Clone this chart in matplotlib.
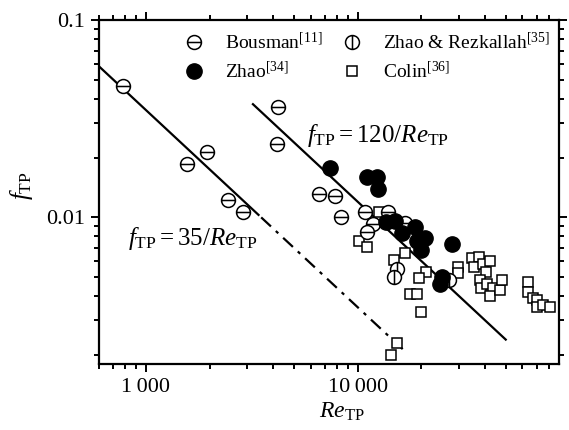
import numpy as np
import matplotlib
matplotlib.use("Agg")
import matplotlib.pyplot as plt
from matplotlib.path import Path
from matplotlib.ticker import FixedLocator, LogLocator, NullFormatter

plt.rcParams['font.family'] = 'Liberation Serif'
plt.rcParams['mathtext.fontset'] = 'custom'
plt.rcParams['mathtext.rm'] = 'Liberation Serif'
plt.rcParams['mathtext.it'] = 'Liberation Serif:italic'

# -------------------------
# Data
# -------------------------
bousman_re = [778, 1560, 1940, 2440, 2870, 4200, 4150, 6550, 7800, 8320,
              10800, 11800, 11100, 13900, 16700]
bousman_f = [0.0462, 0.0186, 0.0214, 0.0122, 0.0106, 0.0361, 0.0235, 0.0132,
             0.0128, 0.0101, 0.0107, 0.0093, 0.0084, 0.0107, 0.0094]

zhao_re = [7380, 11100, 12300, 12400, 13600, 15000, 16100, 18600, 19000,
           20700, 20000, 28000, 24900, 24500]
zhao_f = [0.0177, 0.0161, 0.0160, 0.0140, 0.0095, 0.0096, 0.0083, 0.0089,
          0.0076, 0.0079, 0.0068, 0.0073, 0.0050, 0.0046]

zr_re = [15300, 14900, 27000]
zr_f = [0.0055, 0.0050, 0.0048]

colin_re = [12600, 10100, 11100, 16800, 14800, 21100, 19400, 17600, 19000,
            19800, 15300, 14300, 29900, 29900, 34800, 37200, 35600, 38900,
            42000, 40200, 37600, 38400, 41000, 43300, 42000, 46800, 47800,
            63400, 63400, 66900, 70600, 70000, 74700, 80500]
colin_f = [0.0107, 0.0076, 0.0071, 0.0066, 0.0061, 0.0053, 0.0049, 0.0041,
           0.0041, 0.0033, 0.0023, 0.0020, 0.0056, 0.0052, 0.0062, 0.0063,
           0.0056, 0.0058, 0.0060, 0.0053, 0.0048, 0.0044, 0.0046, 0.0044,
           0.0040, 0.0043, 0.0048, 0.0047, 0.0042, 0.0039, 0.0038, 0.0035,
           0.0036, 0.0035]

# correlation lines f = C / Re
c_low = 35
low_solid = [600, 3400]
low_dash = [3500, 17000]
c_high = 120
high_range = [3200, 50000]

x_ticks = [1000, 10000]
x_ticklabels = ['1\u2009000', '10\u2009000']
y_ticks = [0.01, 0.1]
y_ticklabels = ['0.01', '0.1']

# -------------------------
# Markers
# -------------------------
circ = Path.unit_circle()
m_hline = Path.make_compound_path(circ, Path([[-1, 0], [1, 0]], [Path.MOVETO, Path.LINETO]))
m_vline = Path.make_compound_path(circ, Path([[0, -1], [0, 1]], [Path.MOVETO, Path.LINETO]))

fig = plt.figure(figsize=(5.69, 4.30), dpi=100)
ax = fig.add_axes([0.174, 0.153, 0.808, 0.80])

x = np.array(low_solid, dtype=float)
ax.plot(x, c_low / x, color='black', lw=1.6)
x = np.array(low_dash, dtype=float)
ax.plot(x, c_low / x, color='black', lw=1.6, linestyle=(0, (6, 3, 1.5, 3)))
x = np.array(high_range, dtype=float)
ax.plot(x, c_high / x, color='black', lw=1.6)

ax.plot(colin_re, colin_f, linestyle='none', marker='s', ms=7, mfc='white',
        mec='black', mew=1.1, label='Colin$^{[36]}$', zorder=3)
ax.plot(bousman_re, bousman_f, linestyle='none', marker=m_hline, ms=10, mfc='white',
        mec='black', mew=1.1, label='Bousman$^{[11]}$', zorder=4)
ax.plot(zr_re, zr_f, linestyle='none', marker=m_vline, ms=10, mfc='white',
        mec='black', mew=1.1, label='Zhao & Rezkallah$^{[35]}$', zorder=4)
ax.plot(zhao_re, zhao_f, linestyle='none', marker='o', ms=11, mfc='black',
        mec='black', label='Zhao$^{[34]}$', zorder=5)

ax.set_xscale('log')
ax.set_yscale('log')
ax.set_xlim(600, 89000)
ax.set_ylim(0.0018, 0.1)

ax.xaxis.set_major_locator(FixedLocator(x_ticks))
ax.set_xticklabels(x_ticklabels)
ax.yaxis.set_major_locator(FixedLocator(y_ticks))
ax.set_yticklabels(y_ticklabels)
ax.xaxis.set_minor_locator(LogLocator(subs=np.arange(2, 10)))
ax.yaxis.set_minor_locator(LogLocator(subs=np.arange(2, 10)))
ax.xaxis.set_minor_formatter(NullFormatter())
ax.yaxis.set_minor_formatter(NullFormatter())
ax.tick_params(which='both', direction='out', top=True, right=True, width=1.4,
               labelsize=16, pad=4)
ax.tick_params(which='major', length=6)
ax.tick_params(which='minor', length=3.5)
for s in ax.spines.values():
    s.set_linewidth(1.6)

ax.set_xlabel(r'$Re_{\mathrm{TP}}$', fontsize=17)
ax.xaxis.set_label_coords(0.528, -0.105)
ax.set_ylabel(r'$f_{\mathrm{TP}}$', fontsize=18)
ax.yaxis.set_label_coords(-0.14, 0.52)

ax.text(5740, 0.024, r'$f_{\mathrm{TP}}=120/Re_{\mathrm{TP}}$', fontsize=18,
        ha='left', va='baseline')
ax.text(822, 0.00721, r'$f_{\mathrm{TP}}=35/Re_{\mathrm{TP}}$', fontsize=18,
        ha='left', va='baseline')

h, l = ax.get_legend_handles_labels()
order = [1, 3, 2, 0]
ax.legend([h[i] for i in order], [l[i] for i in order], ncol=2, frameon=False,
          loc='upper left', bbox_to_anchor=(0.16, 1.0), fontsize=14,
          handlelength=1.0, handletextpad=1.1, columnspacing=1.0,
          labelspacing=0.4, borderaxespad=0.2)

fig.savefig('out.png', dpi=100)
